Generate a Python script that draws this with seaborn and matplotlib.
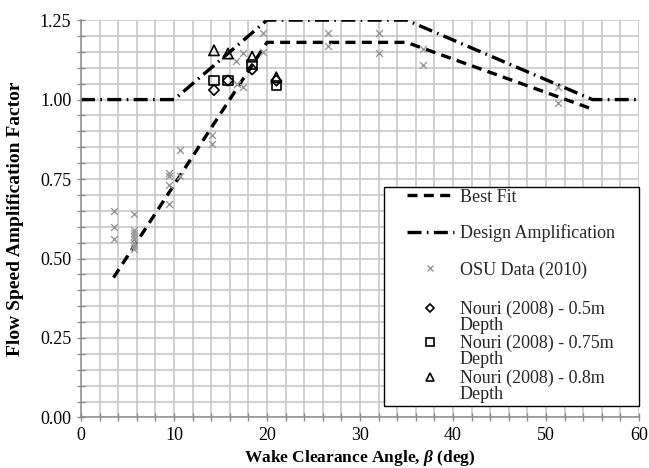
import seaborn as sns
import matplotlib.pyplot as plt
import matplotlib.ticker as mticker
from matplotlib.lines import Line2D
from matplotlib.patches import Rectangle

# Daten
fit_x = [3.5, 20, 35, 55]
fit_y = [0.44, 1.18, 1.18, 0.97]

design_x = [0, 10, 20, 35, 55, 60]
design_y = [1.00, 1.00, 1.25, 1.25, 1.00, 1.00]

osu_x = [3.6, 3.6, 3.6, 5.7, 5.7, 5.7, 5.7, 5.7, 5.7, 5.7, 5.7,
         9.5, 9.5, 9.5, 9.5, 10.6, 10.6, 14.1, 14.1,
         16.7, 16.8, 17.4, 17.4, 19.6, 19.6, 26.6, 26.6,
         32.0, 32.0, 36.8, 36.8, 51.3, 51.3]
osu_y = [0.65, 0.60, 0.56, 0.64, 0.59, 0.58, 0.57, 0.56, 0.55, 0.54, 0.53,
         0.77, 0.76, 0.73, 0.67, 0.84, 0.76, 0.89, 0.86,
         1.12, 1.05, 1.145, 1.04, 1.21, 1.15, 1.21, 1.17,
         1.21, 1.145, 1.16, 1.11, 1.04, 0.99]

nouri_x = [14.3, 15.8, 18.4, 21.0]
nouri_05 = [1.03, 1.06, 1.095, 1.06]
nouri_075 = [1.06, 1.06, 1.11, 1.045]
nouri_08 = [1.155, 1.145, 1.135, 1.07]

FIT_DASH = [3, 1.9]
DESIGN_DASH = [4.2, 1.6, 0.5, 1.6]

sns.set_theme(style="whitegrid")
plt.rcParams["font.family"] = ["Liberation Serif", "DejaVu Serif"]
plt.rcParams["mathtext.fontset"] = "custom"
plt.rcParams["mathtext.bf"] = "Liberation Serif:italic:bold"
plt.rcParams["mathtext.rm"] = "Liberation Serif"
plt.rcParams["mathtext.it"] = "Liberation Serif:italic"

fig = plt.figure(figsize=(6.49, 4.68), dpi=100)
ax = fig.add_axes([0.1248, 0.108, 0.8598, 0.849])

sns.lineplot(x=fit_x, y=fit_y, ax=ax, color="black", lw=2.4,
             sort=False, estimator=None)
ax.lines[-1].set_dashes(FIT_DASH)
sns.lineplot(x=design_x, y=design_y, ax=ax, color="black", lw=2.4,
             sort=False, estimator=None)
ax.lines[-1].set_dashes(DESIGN_DASH)

sns.scatterplot(x=osu_x, y=osu_y, ax=ax, marker="x", color="#9a9a9a",
                s=24, linewidth=1.0, zorder=3)
sns.scatterplot(x=nouri_x, y=nouri_05, ax=ax, marker="D", s=28,
                facecolor="none", edgecolor="black", linewidth=1.2, zorder=4)
sns.scatterplot(x=nouri_x, y=nouri_075, ax=ax, marker="s", s=45,
                facecolor="none", edgecolor="black", linewidth=1.2, zorder=4)
sns.scatterplot(x=nouri_x, y=nouri_08, ax=ax, marker="^", s=55,
                facecolor="none", edgecolor="black", linewidth=1.2, zorder=4)

ax.set_xlim(0, 60)
ax.set_ylim(0, 1.25)
ax.xaxis.set_major_locator(mticker.MultipleLocator(10))
ax.xaxis.set_minor_locator(mticker.MultipleLocator(2))
ax.yaxis.set_major_locator(mticker.MultipleLocator(0.25))
ax.yaxis.set_minor_locator(mticker.MultipleLocator(0.05))
ax.yaxis.set_major_formatter(mticker.FormatStrFormatter("%.2f"))
ax.grid(which="both", color="#c4c4c4", lw=1.1)
ax.set_axisbelow(True)
ax.tick_params(which="both", direction="inout", length=6, width=1,
               color="#8c8c8c", labelsize=13, labelcolor="black",
               bottom=True, left=True, pad=4)
for side in ["top", "right"]:
    ax.spines[side].set_visible(False)
for side in ["left", "bottom"]:
    ax.spines[side].set_color("#8c8c8c")
    ax.spines[side].set_linewidth(1.1)

ax.set_xlabel("Wake Clearance Angle, $\\mathbf{\\beta}$ (deg)",
              fontsize=12.5, fontweight="bold", color="black", labelpad=3)
ax.set_ylabel("Flow Speed Amplification Factor", fontsize=14,
              fontweight="bold", color="black", labelpad=11)

# Legendenrahmen separat, Einträge in zwei Blöcken (ein- und zweizeilig)
ax.add_patch(Rectangle((0.543, 0.029), 0.457, 0.551, transform=ax.transAxes,
                       facecolor="white", edgecolor="black", lw=1.0,
                       zorder=5, clip_on=False))

handles1 = [
    Line2D([], [], color="black", lw=2.4, dashes=FIT_DASH),
    Line2D([], [], color="black", lw=2.4, dashes=DESIGN_DASH),
    Line2D([], [], ls="none", marker="x", color="#9a9a9a", ms=4, mew=1),
]
labels1 = ["Best Fit", "Design Amplification", "OSU Data (2010)"]
handles2 = [
    Line2D([], [], ls="none", marker="D", mfc="none", mec="black", ms=4.5, mew=1.2),
    Line2D([], [], ls="none", marker="s", mfc="none", mec="black", ms=5.5, mew=1.2),
    Line2D([], [], ls="none", marker="^", mfc="none", mec="black", ms=5.5, mew=1.2),
]
labels2 = ["Nouri (2008) - 0.5m\nDepth", "Nouri (2008) - 0.75m\nDepth",
           "Nouri (2008) - 0.8m\nDepth"]

common = dict(loc="upper left", fontsize=13, frameon=False, handlelength=2.6,
              borderaxespad=0, borderpad=0, handletextpad=0.33)
leg1 = ax.legend(handles1, labels1, bbox_to_anchor=(0.584, 0.576),
                 labelspacing=1.05, **common)
leg1.set_zorder(6)
ax.add_artist(leg1)
leg2 = ax.legend(handles2, labels2, bbox_to_anchor=(0.584, 0.294),
                 labelspacing=0.08, handleheight=2.2, **common)
leg2.set_zorder(6)
for t in leg2.get_texts():
    t.set_linespacing(0.9)
# Marker auf Höhe der ersten Textzeile heben
for h in leg2.legend_handles:
    h.set_ydata([y + 3.8 for y in h.get_ydata()])

fig.savefig("out.png", dpi=100)
